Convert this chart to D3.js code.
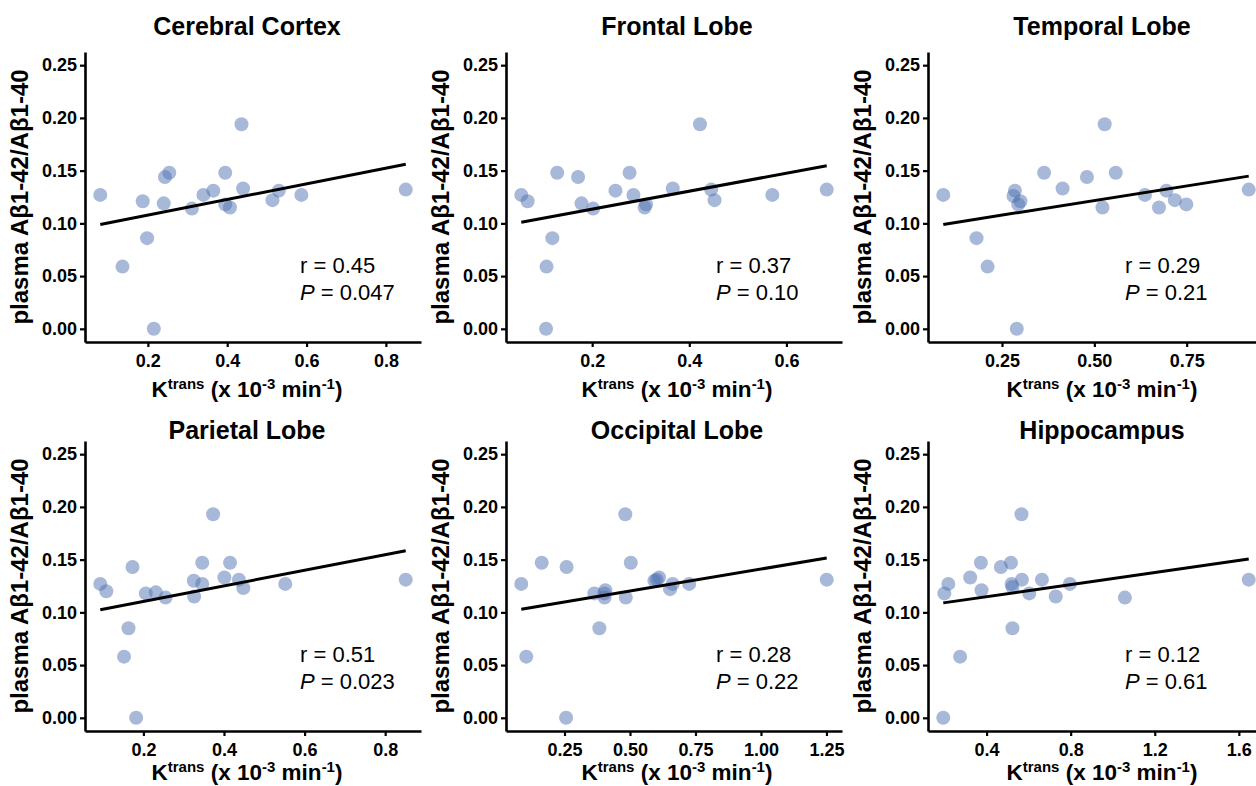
<!DOCTYPE html>
<html>
<head>
<meta charset="utf-8">
<script src="https://cdn.jsdelivr.net/npm/d3@7"></script>
<style>
  body { margin: 0; background: #fff; }
  svg { display: block; font-family: "Liberation Sans", Arial, sans-serif; }
</style>
</head>
<body>
<div id="chart"></div>
<script>
// panel titles
const titles = ["Cerebral Cortex", "Frontal Lobe", "Temporal Lobe",
                "Parietal Lobe", "Occipital Lobe", "Hippocampus"];

// Ktrans (x 10^-3 min^-1) per region
const cortexK    = [0.080,0.136,0.187,0.198,0.215,0.240,0.243,0.254,0.311,0.340,0.365,0.395,0.395,0.407,0.436,0.440,0.514,0.530,0.587,0.850];
const frontalK   = [0.054,0.067,0.106,0.105,0.118,0.128,0.171,0.178,0.202,0.248,0.277,0.285,0.308,0.311,0.366,0.422,0.445,0.452,0.571,0.683];
const temporalK  = [0.091,0.181,0.211,0.285,0.281,0.294,0.300,0.290,0.364,0.414,0.480,0.522,0.528,0.558,0.637,0.675,0.695,0.718,0.749,0.918];
const parietalK  = [0.093,0.108,0.173,0.152,0.163,0.182,0.206,0.231,0.255,0.325,0.326,0.346,0.346,0.373,0.401,0.415,0.437,0.448,0.552,0.851];
const occipitalK = [0.085,0.104,0.163,0.258,0.256,0.364,0.383,0.402,0.406,0.403,0.482,0.484,0.503,0.593,0.602,0.611,0.653,0.663,0.726,1.251];
const hippoK     = [0.194,0.199,0.218,0.274,0.322,0.373,0.376,0.468,0.516,0.519,0.523,0.523,0.566,0.568,0.603,0.663,0.729,0.796,1.058,1.647];

// plasma Aβ1-42/Aβ1-40, same order as the K arrays
const cortexRatio    = [0.127,0.059,0.121,0.086,0.000,0.119,0.144,0.148,0.114,0.127,0.131,0.148,0.118,0.115,0.194,0.133,0.122,0.131,0.127,0.132];
const frontalRatio   = [0.127,0.121,0.059,0.000,0.086,0.148,0.144,0.119,0.114,0.131,0.148,0.127,0.115,0.118,0.133,0.194,0.132,0.122,0.127,0.132];
const temporalRatio  = [0.127,0.086,0.059,0.131,0.126,0.118,0.121,0.000,0.148,0.133,0.144,0.115,0.194,0.148,0.127,0.115,0.131,0.122,0.118,0.132];
const parietalRatio  = [0.127,0.120,0.143,0.058,0.085,0.000,0.118,0.119,0.114,0.130,0.115,0.147,0.127,0.193,0.133,0.147,0.131,0.123,0.127,0.131];
const occipitalRatio = [0.127,0.058,0.147,0.143,0.000,0.118,0.085,0.118,0.121,0.114,0.193,0.114,0.147,0.130,0.131,0.133,0.122,0.127,0.127,0.131];
const hippoRatio     = [0.000,0.118,0.127,0.058,0.133,0.147,0.121,0.143,0.147,0.127,0.124,0.085,0.193,0.131,0.118,0.131,0.115,0.127,0.114,0.131];

// fitted line value at the smallest and largest K
const fitStart = [0.099, 0.101, 0.099, 0.1025, 0.103, 0.109];
const fitEnd   = [0.156, 0.1546, 0.1448, 0.1584, 0.1515, 0.1506];

const rValues = ["0.45", "0.37", "0.29", "0.51", "0.28", "0.12"];
const pValues = ["0.047", "0.10", "0.21", "0.023", "0.22", "0.61"];

// tick labels
const yTicks = [0, 0.05, 0.10, 0.15, 0.20, 0.25];
const xTickSets = [
  [0.2, 0.4, 0.6, 0.8],
  [0.2, 0.4, 0.6],
  [0.25, 0.50, 0.75],
  [0.2, 0.4, 0.6, 0.8],
  [0.25, 0.50, 0.75, 1.00, 1.25],
  [0.4, 0.8, 1.2, 1.6]
];
const xTickFormats = [".1f", ".1f", ".2f", ".1f", ".2f", ".1f"];

const kValues = [cortexK, frontalK, temporalK, parietalK, occipitalK, hippoK];
const ratioValues = [cortexRatio, frontalRatio, temporalRatio, parietalRatio, occipitalRatio, hippoRatio];

// layout
const W = 1256, H = 786;
const colLeft = [85, 506, 928];
const rowTop = [52, 441];
const titleBase = [35, 439];
const xLabelBase = [397, 780];
const textCenter = [247, 677, 1102];
const annoOffset = [215, 210, 197];
const pw = 336, ph = 290;

const svg = d3.select("#chart")
  .append("svg")
  .attr("width", W)
  .attr("height", H);

titles.forEach((title, i) => {
  const col = i % 3, row = Math.floor(i / 3);
  const left = colLeft[col], top = rowTop[row];
  const xs = kValues[i], ys = ratioValues[i];
  const data = xs.map((k, j) => ({ k: k, r: ys[j] }));

  // ggplot-like 5% expansion
  const [xmin, xmax] = d3.extent(xs);
  const pad = (xmax - xmin) * 0.05;
  const x = d3.scaleLinear().domain([xmin - pad, xmax + pad]).range([0, pw]);
  const y = d3.scaleLinear().domain([-0.0125, 0.2625]).range([ph, 0]);

  const g = svg.append("g").attr("transform", `translate(${left},${top})`);

  // points
  g.selectAll(".pt")
    .data(data)
    .enter()
    .append("circle")
    .attr("class", "pt")
    .attr("cx", d => x(d.k))
    .attr("cy", d => y(d.r))
    .attr("r", 7)
    .attr("fill", "#4f72b2")
    .attr("fill-opacity", 0.5);

  // fit line
  g.append("line")
    .attr("x1", x(xmin)).attr("y1", y(fitStart[i]))
    .attr("x2", x(xmax)).attr("y2", y(fitEnd[i]))
    .attr("stroke", "#000")
    .attr("stroke-width", 3);

  // axes
  const yAxis = g.append("g")
    .call(d3.axisLeft(y).tickValues(yTicks).tickFormat(d3.format(".2f")).tickSize(5).tickSizeOuter(0).tickPadding(3));
  const xAxis = g.append("g")
    .attr("transform", `translate(0,${ph})`)
    .call(d3.axisBottom(x).tickValues(xTickSets[i]).tickFormat(d3.format(xTickFormats[i])).tickSize(5).tickSizeOuter(0).tickPadding(7));

  [yAxis, xAxis].forEach(a => {
    a.select(".domain").attr("stroke-width", 2.6).attr("stroke", "#000");
    a.selectAll(".tick line").attr("stroke-width", 2.2).attr("stroke", "#000");
    a.selectAll(".tick text")
      .attr("font-size", "18px")
      .attr("font-weight", "bold")
      .attr("font-family", "Liberation Sans, Arial, sans-serif")
      .attr("fill", "#000");
  });

  // title
  svg.append("text")
    .attr("x", textCenter[col])
    .attr("y", titleBase[row])
    .attr("text-anchor", "middle")
    .attr("font-size", "25px")
    .attr("font-weight", "bold")
    .text(title);

  // y label
  svg.append("text")
    .attr("transform", `translate(${left - 57},${top + ph / 2}) rotate(-90)`)
    .attr("text-anchor", "middle")
    .attr("font-size", "24px")
    .attr("font-weight", "bold")
    .text("plasma Aβ1-42/Aβ1-40");

  // x label with superscripts
  const xl = svg.append("text")
    .attr("x", textCenter[col])
    .attr("y", xLabelBase[row])
    .attr("text-anchor", "middle")
    .attr("font-size", "22.5px")
    .attr("font-weight", "bold");
  xl.append("tspan").text("K");
  xl.append("tspan").attr("font-size", "15px").attr("dy", -8).text("trans");
  xl.append("tspan").attr("dy", 8).text(" (x 10");
  xl.append("tspan").attr("font-size", "15px").attr("dy", -8).text("-3");
  xl.append("tspan").attr("dy", 8).text(" min");
  xl.append("tspan").attr("font-size", "15px").attr("dy", -8).text("-1");
  xl.append("tspan").attr("dy", 8).text(")");

  // r and P annotation
  const ax = left + annoOffset[col];
  svg.append("text")
    .attr("x", ax).attr("y", top + 221)
    .attr("font-size", "22px")
    .text(`r = ${rValues[i]}`);
  const pt = svg.append("text")
    .attr("x", ax).attr("y", top + 248)
    .attr("font-size", "22px");
  pt.append("tspan").attr("font-style", "italic").text("P");
  pt.append("tspan").text(` = ${pValues[i]}`);
});
</script>
</body>
</html>
